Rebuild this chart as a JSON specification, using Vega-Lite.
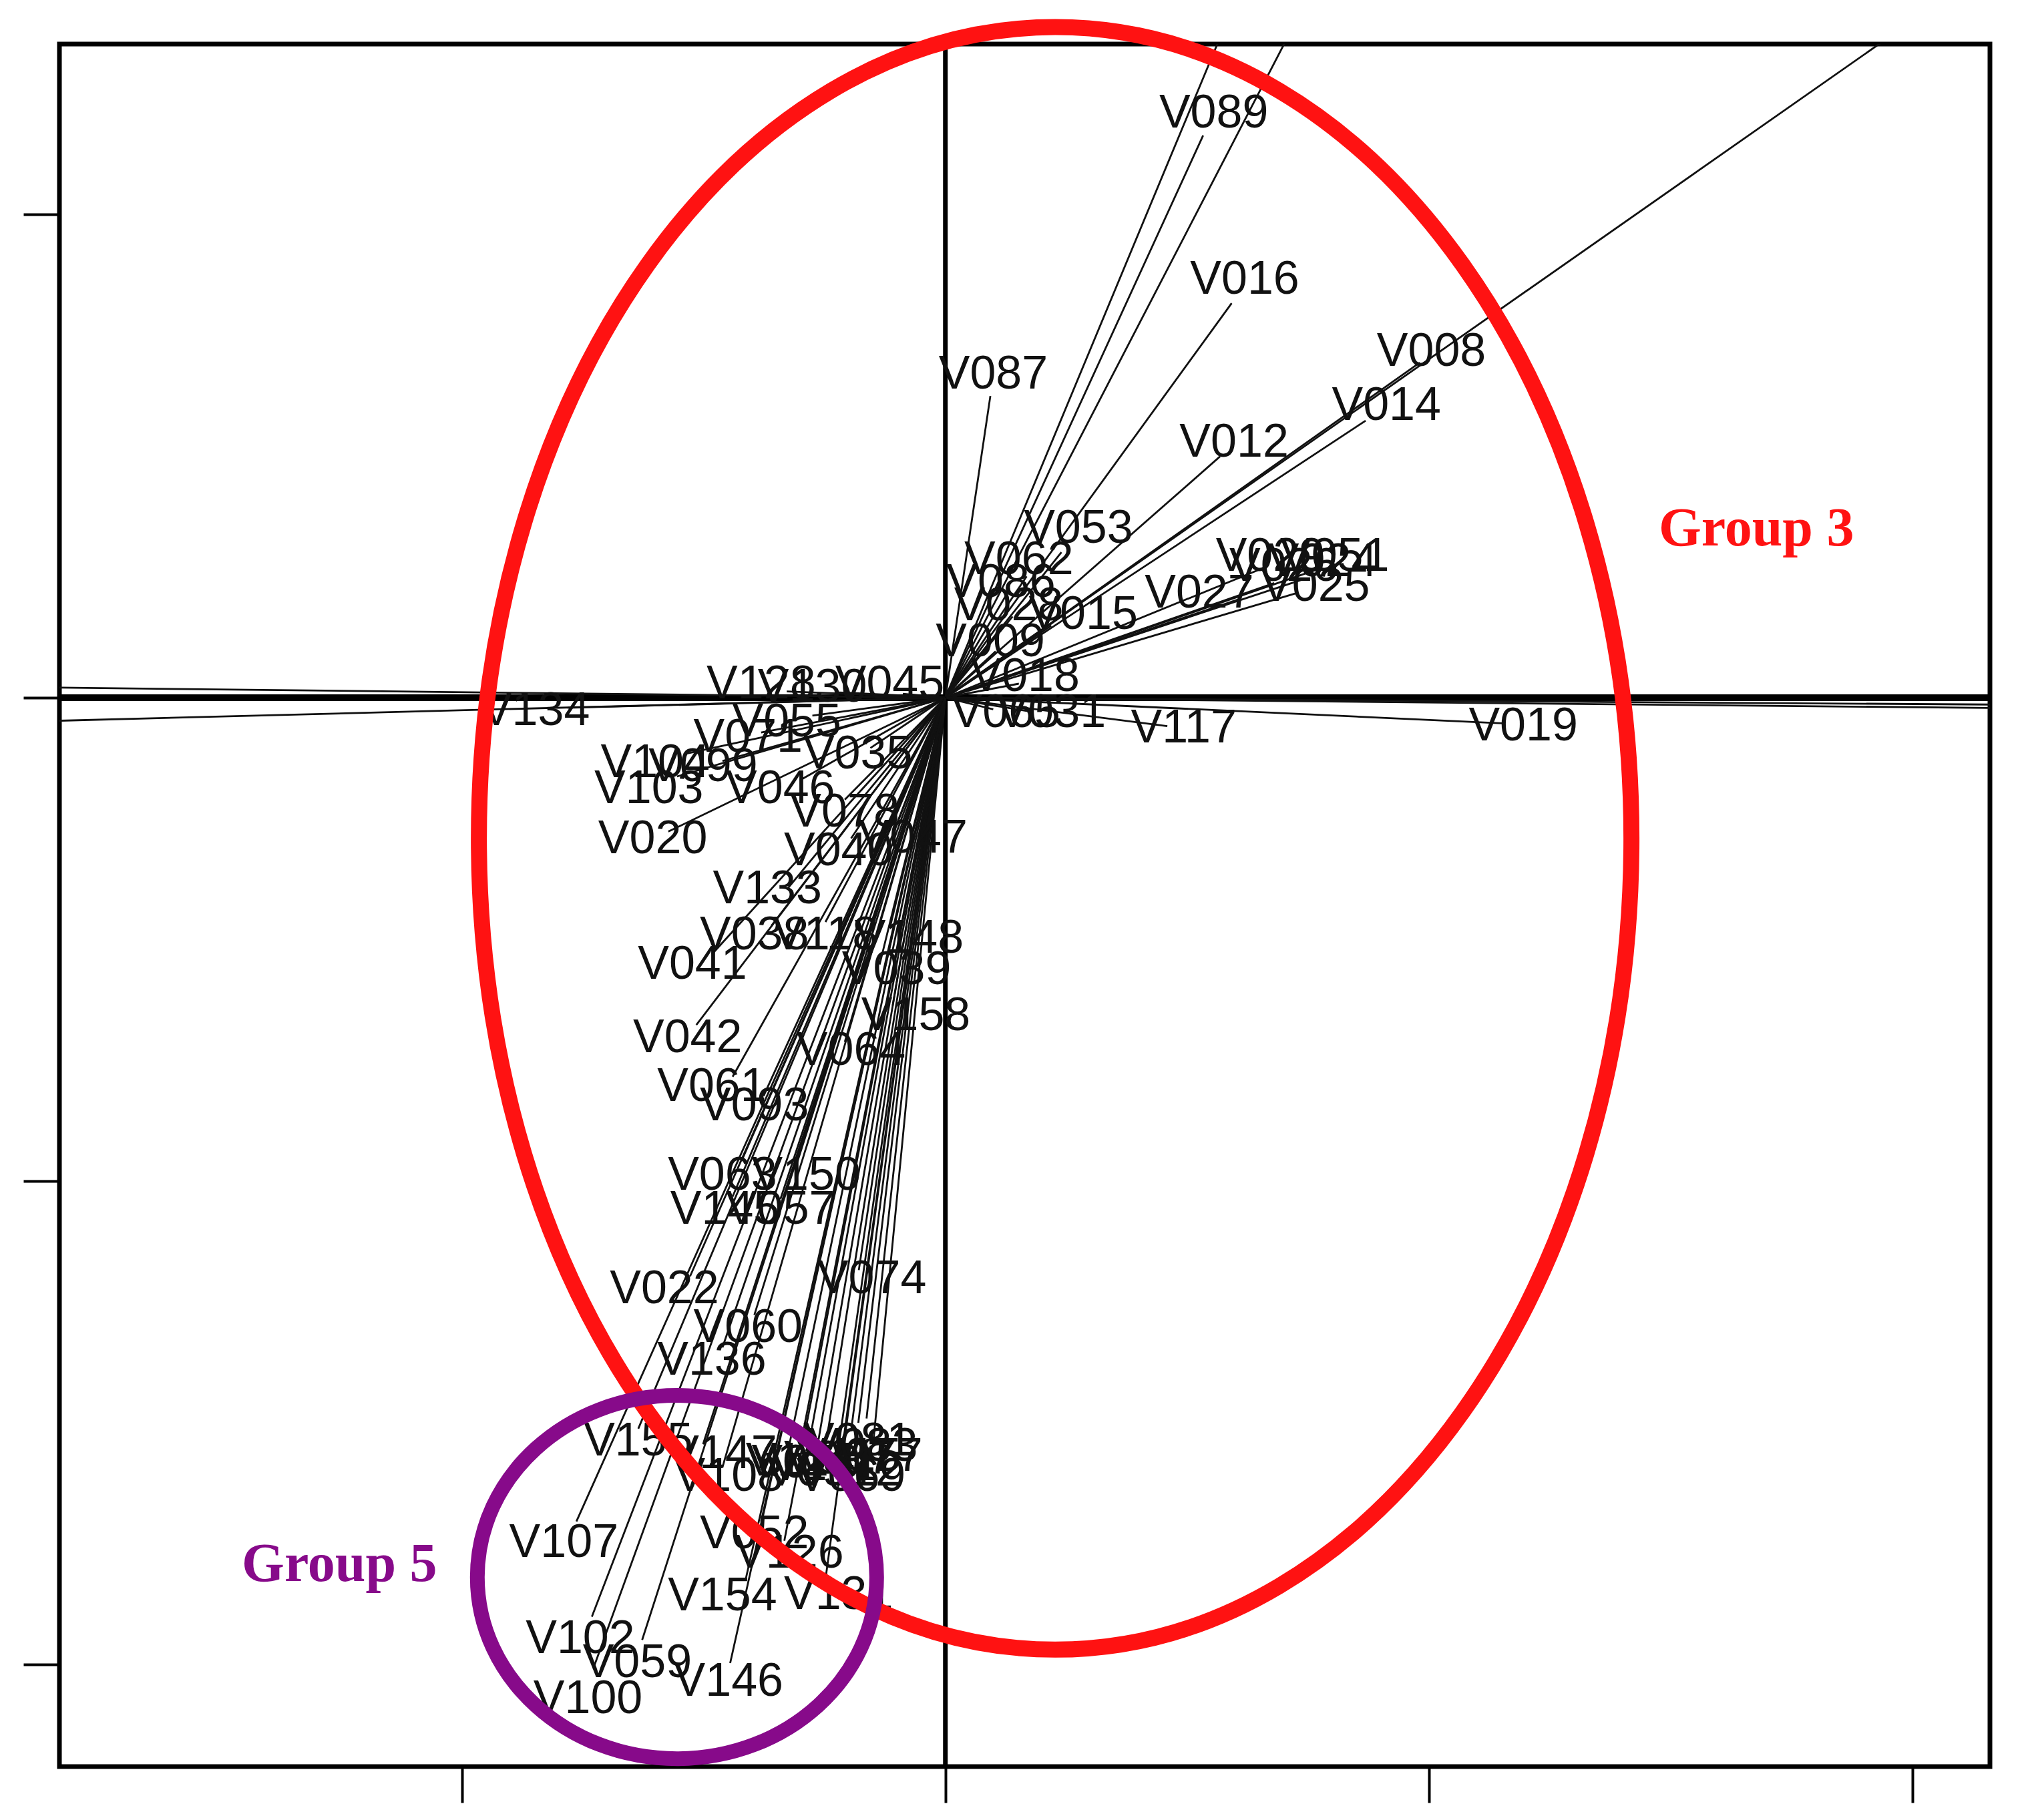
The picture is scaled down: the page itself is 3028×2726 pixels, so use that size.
{
  "$schema": "https://vega.github.io/schema/vega-lite/v6.json",
  "width": 2891,
  "height": 2580,
  "autosize": {"type": "none"},
  "padding": {"left": 89, "top": 66, "right": 48, "bottom": 80},
  "background": "white",
  "config": {
    "view": {"stroke": "#000000", "strokeWidth": 7},
    "axis": {"grid": false, "labels": false, "domain": false, "title": null, "ticks": true, "tickColor": "#000000", "tickWidth": 4, "tickSize": 54}
  },
  "datasets": {
    "vars": [
      {"name": "V089", "x": 0.533, "y": 1.163, "lx": 0.555, "ly": 1.208},
      {"name": "V016", "x": 0.592, "y": 0.816, "lx": 0.619, "ly": 0.864},
      {"name": "V087", "x": 0.093, "y": 0.624, "lx": 0.099, "ly": 0.669},
      {"name": "V008", "x": 0.981, "y": 0.693, "lx": 1.005, "ly": 0.715},
      {"name": "V014", "x": 0.869, "y": 0.573, "lx": 0.912, "ly": 0.603},
      {"name": "V012", "x": 0.568, "y": 0.499, "lx": 0.597, "ly": 0.528},
      {"name": "V053", "x": 0.24, "y": 0.301, "lx": 0.275, "ly": 0.349},
      {"name": "V062", "x": 0.168, "y": 0.251, "lx": 0.152, "ly": 0.285},
      {"name": "V086", "x": 0.125, "y": 0.211, "lx": 0.115, "ly": 0.237},
      {"name": "V028", "x": 0.139, "y": 0.168, "lx": 0.131, "ly": 0.189},
      {"name": "V015", "x": 0.219, "y": 0.149, "lx": 0.285, "ly": 0.171},
      {"name": "V009", "x": 0.104, "y": 0.096, "lx": 0.093, "ly": 0.115},
      {"name": "V018", "x": 0.152, "y": 0.029, "lx": 0.165, "ly": 0.043},
      {"name": "V029", "x": 0.659, "y": 0.269, "lx": 0.672, "ly": 0.291},
      {"name": "V051", "x": 0.765, "y": 0.264, "lx": 0.805, "ly": 0.291},
      {"name": "V027", "x": 0.605, "y": 0.203, "lx": 0.525, "ly": 0.216},
      {"name": "V025", "x": 0.725, "y": 0.216, "lx": 0.765, "ly": 0.229},
      {"name": "V026", "x": 0.68, "y": 0.237, "lx": 0.7, "ly": 0.27},
      {"name": "V024", "x": 0.74, "y": 0.245, "lx": 0.78, "ly": 0.28},
      {"name": "V065", "x": 0.099, "y": -0.024, "lx": 0.125, "ly": -0.032},
      {"name": "V031", "x": 0.179, "y": -0.029, "lx": 0.219, "ly": -0.032},
      {"name": "V117", "x": 0.459, "y": -0.059, "lx": 0.493, "ly": -0.064},
      {"name": "V019", "x": 1.152, "y": -0.053, "lx": 1.195, "ly": -0.059},
      {"name": "V090", "x": 0.789, "y": 1.523, "lx": 0.8, "ly": 1.58},
      {"name": "V088", "x": 0.611, "y": 1.469, "lx": 0.62, "ly": 1.52},
      {"name": "V006", "x": 2.205, "y": 1.544, "lx": 2.25, "ly": 1.58},
      {"name": "V013", "x": 2.445, "y": -0.016, "lx": 2.5, "ly": -0.02},
      {"name": "V021", "x": 2.445, "y": -0.024, "lx": 2.5, "ly": -0.03},
      {"name": "V135", "x": -2.115, "y": -0.055, "lx": -2.17, "ly": -0.06},
      {"name": "V132", "x": -2.115, "y": 0.024, "lx": -2.17, "ly": 0.03},
      {"name": "V134", "x": -0.781, "y": -0.021, "lx": -0.848, "ly": -0.027},
      {"name": "V128", "x": -0.328, "y": 0.013, "lx": -0.381, "ly": 0.027},
      {"name": "V130", "x": -0.221, "y": 0.011, "lx": -0.275, "ly": 0.021},
      {"name": "V045", "x": -0.088, "y": 0.008, "lx": -0.115, "ly": 0.027},
      {"name": "V055", "x": -0.275, "y": -0.037, "lx": -0.328, "ly": -0.051},
      {"name": "V104", "x": -0.541, "y": -0.117, "lx": -0.6, "ly": -0.136},
      {"name": "V103", "x": -0.555, "y": -0.163, "lx": -0.613, "ly": -0.189},
      {"name": "V046", "x": -0.301, "y": -0.171, "lx": -0.341, "ly": -0.189},
      {"name": "V078", "x": -0.208, "y": -0.211, "lx": -0.208, "ly": -0.237},
      {"name": "V020", "x": -0.573, "y": -0.277, "lx": -0.605, "ly": -0.293},
      {"name": "V071", "x": -0.381, "y": -0.072, "lx": -0.408, "ly": -0.083},
      {"name": "V047", "x": -0.101, "y": -0.264, "lx": -0.067, "ly": -0.291},
      {"name": "V040", "x": -0.195, "y": -0.291, "lx": -0.221, "ly": -0.317},
      {"name": "V035", "x": -0.155, "y": -0.104, "lx": -0.181, "ly": -0.117},
      {"name": "V099", "x": -0.461, "y": -0.131, "lx": -0.501, "ly": -0.144},
      {"name": "V133", "x": -0.328, "y": -0.397, "lx": -0.368, "ly": -0.397},
      {"name": "V038", "x": -0.36, "y": -0.472, "lx": -0.395, "ly": -0.491},
      {"name": "V118", "x": -0.248, "y": -0.464, "lx": -0.248, "ly": -0.491},
      {"name": "V148", "x": -0.115, "y": -0.477, "lx": -0.075, "ly": -0.499},
      {"name": "V041", "x": -0.483, "y": -0.531, "lx": -0.523, "ly": -0.552},
      {"name": "V039", "x": -0.136, "y": -0.552, "lx": -0.101, "ly": -0.563},
      {"name": "V158", "x": -0.109, "y": -0.637, "lx": -0.061, "ly": -0.659},
      {"name": "V042", "x": -0.515, "y": -0.677, "lx": -0.533, "ly": -0.704},
      {"name": "V064", "x": -0.208, "y": -0.712, "lx": -0.195, "ly": -0.731},
      {"name": "V061", "x": -0.44, "y": -0.784, "lx": -0.483, "ly": -0.805},
      {"name": "V093", "x": -0.376, "y": -0.824, "lx": -0.395, "ly": -0.845},
      {"name": "V063", "x": -0.421, "y": -0.957, "lx": -0.461, "ly": -0.989},
      {"name": "V150", "x": -0.307, "y": -0.963, "lx": -0.288, "ly": -0.989},
      {"name": "V145", "x": -0.44, "y": -1.032, "lx": -0.456, "ly": -1.059},
      {"name": "V057", "x": -0.341, "y": -1.037, "lx": -0.341, "ly": -1.059},
      {"name": "V074", "x": -0.179, "y": -1.184, "lx": -0.152, "ly": -1.203},
      {"name": "V022", "x": -0.528, "y": -1.197, "lx": -0.581, "ly": -1.224},
      {"name": "V060", "x": -0.395, "y": -1.277, "lx": -0.408, "ly": -1.304},
      {"name": "V136", "x": -0.461, "y": -1.344, "lx": -0.483, "ly": -1.371},
      {"name": "V155", "x": -0.635, "y": -1.512, "lx": -0.635, "ly": -1.539},
      {"name": "V147", "x": -0.501, "y": -1.544, "lx": -0.461, "ly": -1.565},
      {"name": "V108", "x": -0.461, "y": -1.592, "lx": -0.448, "ly": -1.611},
      {"name": "V070", "x": -0.328, "y": -1.571, "lx": -0.288, "ly": -1.584},
      {"name": "V067", "x": -0.248, "y": -1.549, "lx": -0.221, "ly": -1.576},
      {"name": "V069", "x": -0.227, "y": -1.592, "lx": -0.195, "ly": -1.611},
      {"name": "V081", "x": -0.195, "y": -1.517, "lx": -0.181, "ly": -1.539},
      {"name": "V077", "x": -0.163, "y": -1.491, "lx": -0.16, "ly": -1.57},
      {"name": "V112", "x": -0.15, "y": -1.55, "lx": -0.2, "ly": -1.6},
      {"name": "V097", "x": -0.27, "y": -1.58, "lx": -0.26, "ly": -1.6},
      {"name": "V124", "x": -0.3, "y": -1.55, "lx": -0.3, "ly": -1.58},
      {"name": "V115", "x": -0.21, "y": -1.53, "lx": -0.2, "ly": -1.57},
      {"name": "V141", "x": -0.285, "y": -1.56, "lx": -0.25, "ly": -1.59},
      {"name": "V083", "x": -0.18, "y": -1.5, "lx": -0.17, "ly": -1.55},
      {"name": "V107", "x": -0.763, "y": -1.704, "lx": -0.789, "ly": -1.749},
      {"name": "V052", "x": -0.381, "y": -1.704, "lx": -0.395, "ly": -1.731},
      {"name": "V126", "x": -0.333, "y": -1.744, "lx": -0.323, "ly": -1.771},
      {"name": "V154", "x": -0.413, "y": -1.824, "lx": -0.461, "ly": -1.859},
      {"name": "V131", "x": -0.248, "y": -1.824, "lx": -0.221, "ly": -1.856},
      {"name": "V102", "x": -0.731, "y": -1.901, "lx": -0.755, "ly": -1.947},
      {"name": "V059", "x": -0.627, "y": -1.949, "lx": -0.637, "ly": -1.997},
      {"name": "V146", "x": -0.445, "y": -1.997, "lx": -0.448, "ly": -2.035},
      {"name": "V100", "x": -0.728, "y": -2.008, "lx": -0.739, "ly": -2.072}
    ],
    "groups": [
      {"label": "Group 3", "x": 1.677, "y": 0.349, "grp": "g3"},
      {"label": "Group 5", "x": -1.253, "y": -1.792, "grp": "g5"}
    ],
    "ellipses": [
      {"grp": "g3", "cx": 0.227, "cy": -0.291},
      {"grp": "g5", "cx": -0.555, "cy": -1.819}
    ]
  },
  "layer": [
    {
      "data": {"values": [{"v": 0}]},
      "mark": {"type": "rule", "color": "#000000", "strokeWidth": 7},
      "encoding": {
        "x": {"datum": 0, "type": "quantitative", "scale": {"domain": [-1.832, 2.16], "nice": false, "zero": false}, "axis": {"values": [-1, 0, 1, 2]}}
      }
    },
    {
      "data": {"values": [{"v": 0}]},
      "mark": {"type": "rule", "color": "#000000", "strokeWidth": 10},
      "encoding": {
        "y": {"datum": 0, "type": "quantitative", "scale": {"domain": [-2.211, 1.352], "nice": false, "zero": false}, "axis": {"values": [1, 0, -1, -2]}}
      }
    },
    {
      "data": {"name": "vars"},
      "mark": {"type": "rule", "color": "#111111", "strokeWidth": 2.8, "clip": true},
      "encoding": {
        "x": {"field": "x", "type": "quantitative", "scale": {"domain": [-1.832, 2.16], "nice": false, "zero": false}},
        "y": {"field": "y", "type": "quantitative", "scale": {"domain": [-2.211, 1.352], "nice": false, "zero": false}},
        "x2": {"datum": 0},
        "y2": {"datum": 0}
      }
    },
    {
      "data": {"name": "vars"},
      "transform": [{"filter": "datum.lx > -1.8 && datum.lx < 2.1 && datum.ly < 1.33 && datum.ly > -2.19"}],
      "mark": {"type": "text", "font": "Liberation Sans", "fontSize": 70, "color": "#111111", "align": "center", "baseline": "middle", "clip": true},
      "encoding": {
        "x": {"field": "lx", "type": "quantitative", "scale": {"domain": [-1.832, 2.16], "nice": false, "zero": false}},
        "y": {"field": "ly", "type": "quantitative", "scale": {"domain": [-2.211, 1.352], "nice": false, "zero": false}},
        "text": {"field": "name"}
      }
    },
    {
      "data": {"name": "ellipses"},
      "transform": [{"filter": "datum.grp === 'g3'"}],
      "mark": {"type": "point", "filled": false, "stroke": "#ff1212", "strokeWidth": 24, "size": 2979076, "opacity": 1, "clip": false,
        "shape": "M 1 0 C 1 0.7776 0.5523 1.408 0 1.408 C -0.5523 1.408 -1 0.7776 -1 0 C -1 -0.7776 -0.5523 -1.408 0 -1.408 C 0.5523 -1.408 1 -0.7776 1 0 Z"},
      "encoding": {
        "x": {"field": "cx", "type": "quantitative", "scale": {"domain": [-1.832, 2.16], "nice": false, "zero": false}},
        "y": {"field": "cy", "type": "quantitative", "scale": {"domain": [-2.211, 1.352], "nice": false, "zero": false}}
      }
    },
    {
      "data": {"name": "ellipses"},
      "transform": [{"filter": "datum.grp === 'g5'"}],
      "mark": {"type": "point", "filled": false, "stroke": "#870a8a", "strokeWidth": 22, "size": 357604, "opacity": 1, "clip": false,
        "shape": "M 1 0 C 1 0.5026 0.5523 0.91 0 0.91 C -0.5523 0.91 -1 0.5026 -1 0 C -1 -0.5026 -0.5523 -0.91 0 -0.91 C 0.5523 -0.91 1 -0.5026 1 0 Z"},
      "encoding": {
        "x": {"field": "cx", "type": "quantitative", "scale": {"domain": [-1.832, 2.16], "nice": false, "zero": false}},
        "y": {"field": "cy", "type": "quantitative", "scale": {"domain": [-2.211, 1.352], "nice": false, "zero": false}}
      }
    },
    {
      "data": {"name": "groups"},
      "mark": {"type": "text", "font": "Liberation Serif", "fontWeight": "bold", "fontSize": 82, "align": "center", "baseline": "middle"},
      "encoding": {
        "x": {"field": "x", "type": "quantitative", "scale": {"domain": [-1.832, 2.16], "nice": false, "zero": false}},
        "y": {"field": "y", "type": "quantitative", "scale": {"domain": [-2.211, 1.352], "nice": false, "zero": false}},
        "text": {"field": "label"},
        "color": {"field": "grp", "type": "nominal", "scale": {"domain": ["g3", "g5"], "range": ["#ff1212", "#870a8a"]}, "legend": null}
      }
    }
  ]
}
